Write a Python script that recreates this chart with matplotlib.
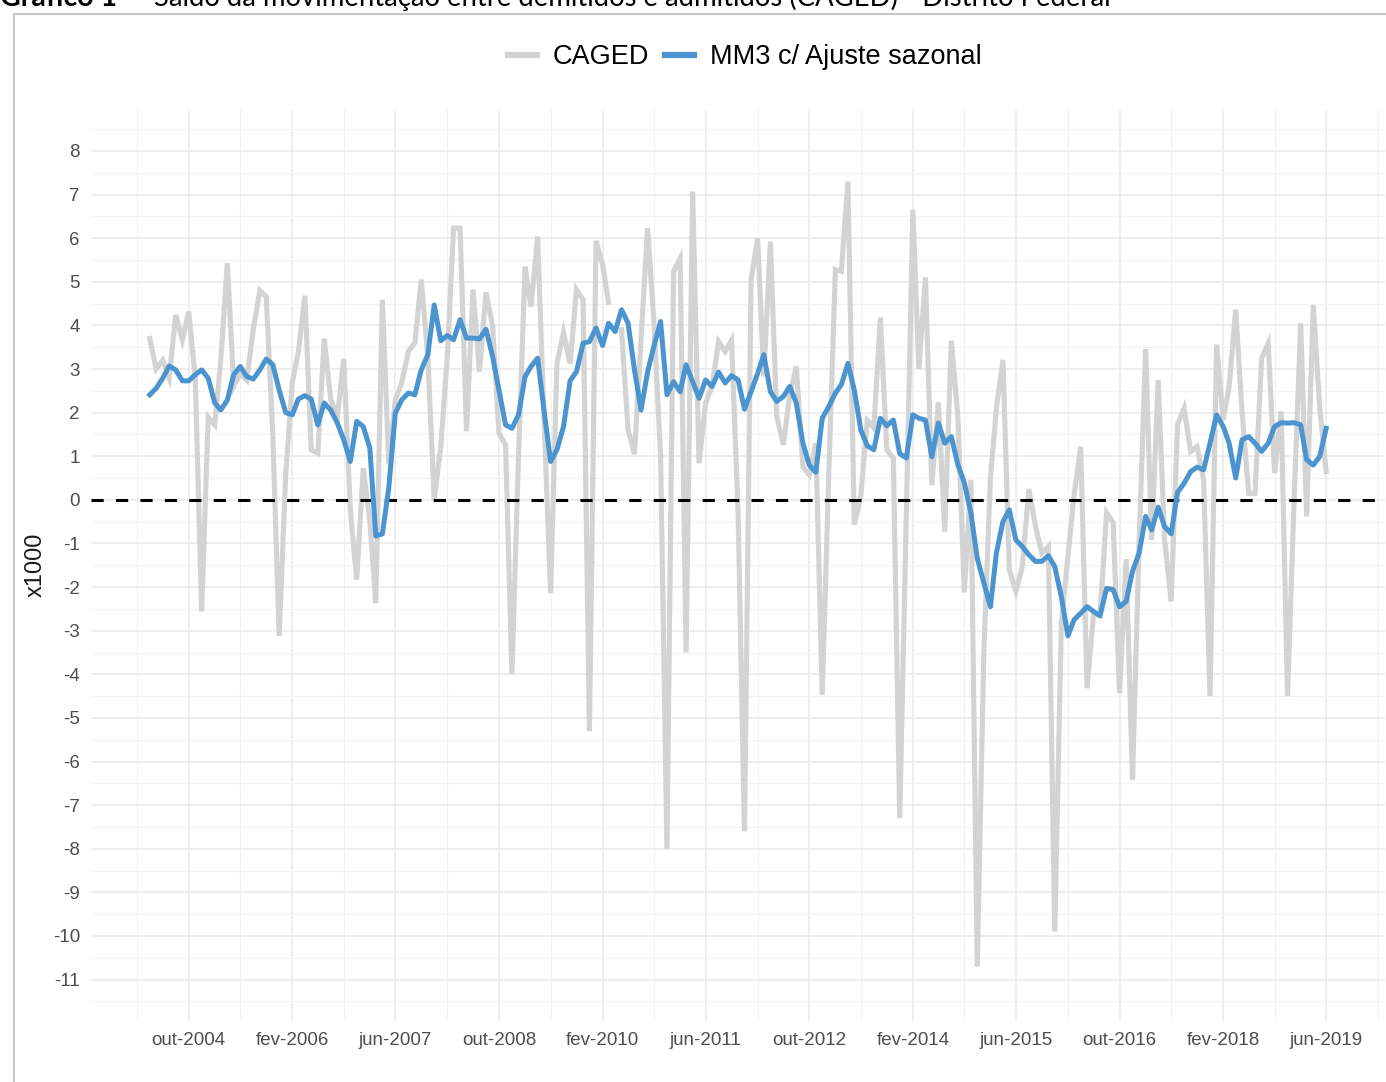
import matplotlib
matplotlib.use("Agg")
import matplotlib.pyplot as plt
import matplotlib.dates as mdates
from matplotlib.lines import Line2D
import numpy as np
import pandas as pd

# saldo mensal (milhares), abr-2004 a jun-2019
caged = [3.7, 3.0, 3.2, 2.8, 4.24, 3.67, 4.32, 2.8, -2.56, 1.9, 1.72, 3.2,
         5.43, 2.6, 2.9, 2.75, 3.9, 4.8, 4.66, 1.5, -3.12, 0.6, 2.7, 3.38,
         4.68, 1.15, 1.07, 3.7, 2.3, 1.9, 3.23, -0.23, -1.83, 0.73, -0.5, -2.37,
         4.59, 0.84, 2.29, 2.68, 3.4, 3.6, 5.05, 3.29, 0.0, 1.22, 3.3, 6.23,
         6.23, 1.57, 4.82, 2.94, 4.76, 3.98, 1.53, 1.26, -4.0, 1.0, 5.35, 4.43,
         6.04, 1.9, -2.14, 3.13, 3.84, 3.12, 4.82, 4.59, -5.3, 5.94, 5.39, 4.53,
         np.nan, 3.9, 1.6, 1.05, 3.7, 6.23, 4.05, 1.0, -8.0, 5.24, 5.54, -3.5,
         7.07, 0.84, 2.22, 2.6, 3.63, 3.4, 3.66, -0.3, -7.6, 5.05, 6.0, 2.83,
         5.92, 1.91, 1.26, 2.4, 3.06, 0.76, 0.57, 1.3, -4.47, 0.6, 5.28, 5.24,
         7.3, -0.57, 0.1, 1.82, 1.65, 4.18, 1.15, 0.95, -7.3, -0.3, 6.65, 3.0,
         5.1, 0.33, 2.24, -0.73, 3.65, 1.9, -2.12, 0.46, -10.7, -3.5, 0.5, 2.1,
         3.21, -1.6, -2.1, -1.53, 0.25, -0.6, -1.22, -1.07, -9.9, -2.83, -1.3, 0.1,
         1.22, -4.32, -2.6, -2.65, -0.3, -0.52, -4.43, -1.36, -6.42, -1.0, 3.46, -0.92,
         2.75, -0.9, -2.33, 1.72, 2.1, 1.11, 1.22, 0.46, -4.5, 3.56, 1.83, 2.6,
         4.36, 2.0, 0.15, 0.15, 3.25, 3.59, 0.61, 2.03, -4.5, 0.0, 4.05, -0.38,
         4.47, 2.14, 0.65]

mm3 = [2.41, 2.56, 2.79, 3.07, 2.98, 2.73, 2.73, 2.87, 2.98, 2.79, 2.22, 2.06,
       2.29, 2.87, 3.06, 2.83, 2.77, 2.98, 3.23, 3.1, 2.52, 2.0, 1.95, 2.31,
       2.39, 2.31, 1.72, 2.22, 2.06, 1.76, 1.38, 0.88, 1.8, 1.68, 1.19, -0.83,
       -0.78, 0.27, 1.99, 2.29, 2.45, 2.41, 2.98, 3.33, 4.47, 3.65, 3.77, 3.67,
       4.13, 3.71, 3.71, 3.69, 3.91, 3.29, 2.52, 1.72, 1.64, 1.95, 2.83, 3.06,
       3.25, 2.06, 0.88, 1.15, 1.68, 2.73, 2.94, 3.59, 3.63, 3.94, 3.54, 4.05,
       3.86, 4.36, 4.05, 2.98, 2.06, 2.94, 3.53, 4.09, 2.41, 2.71, 2.48, 3.1,
       2.71, 2.33, 2.75, 2.6, 2.93, 2.68, 2.85, 2.75, 2.08, 2.48, 2.9, 3.33,
       2.48, 2.26, 2.37, 2.6, 2.22, 1.3, 0.8, 0.63, 1.87, 2.14, 2.45, 2.64,
       3.13, 2.52, 1.6, 1.24, 1.15, 1.87, 1.7, 1.83, 1.06, 0.96, 1.95, 1.87,
       1.83, 0.99, 1.76, 1.3, 1.45, 0.8, 0.4, -0.3, -1.34, -1.9, -2.45, -1.22,
       -0.5, -0.23, -0.92, -1.07, -1.26, -1.41, -1.41, -1.28, -1.53, -2.22, -3.12, -2.75,
       -2.6, -2.45, -2.56, -2.66, -2.03, -2.06, -2.45, -2.33, -1.64, -1.22, -0.38, -0.69,
       -0.17, -0.61, -0.78, 0.17, 0.38, 0.65, 0.75, 0.69, 1.3, 1.95, 1.68, 1.3,
       0.5, 1.38, 1.45, 1.3, 1.11, 1.3, 1.68, 1.77, 1.76, 1.77, 1.72, 0.92,
       0.8, 0.99, 1.64]

datas = pd.date_range("2004-04-01", periods=len(caged), freq="MS")
rotulos_x = ["out-2004", "fev-2006", "jun-2007", "out-2008", "fev-2010", "jun-2011",
             "out-2012", "fev-2014", "jun-2015", "out-2016", "fev-2018", "jun-2019"]
ticks_x = pd.date_range("2004-10-01", periods=len(rotulos_x), freq="16MS")
minor_x = pd.date_range("2004-02-01", periods=2 * len(rotulos_x) + 1, freq="8MS")
ticks_y = list(range(-11, 9))

W, H = 1386, 1082
fig = plt.figure(figsize=(W / 100, H / 100), dpi=100)
plt.rcParams["font.family"] = ["Liberation Sans", "DejaVu Sans"]

ax = fig.add_axes([91 / W, 1 - 1021 / H, (1385 - 91) / W, (1021 - 110) / H])

ax.plot(datas, caged, color="#d3d3d3", lw=3.7, solid_joinstyle="miter", zorder=2,
        label="CAGED")
ax.axhline(0, color="black", lw=2.2, dashes=(4, 4), zorder=3)
ax.plot(datas, mm3, color="#4b94cf", lw=3.6, zorder=4, label="MM3 c/ Ajuste sazonal")

x0 = mdates.date2num(datas[0])
x1 = mdates.date2num(datas[-1])
pad = 0.05 * (x1 - x0)
ax.set_xlim(x0 - pad, x1 + pad)
ax.set_ylim(-11.95, 8.94)

ax.set_xticks(ticks_x)
ax.set_xticklabels(rotulos_x)
ax.set_xticks(minor_x, minor=True)
ax.set_yticks(ticks_y)
ax.set_yticklabels([str(v) for v in ticks_y])
ax.set_yticks(np.arange(-11.5, 9, 1.0), minor=True)

ax.grid(which="major", color="#ebebeb", lw=1.2, zorder=0)
ax.grid(which="minor", color="#f2f2f2", lw=0.8, zorder=0)
ax.set_axisbelow(True)
for s in ax.spines.values():
    s.set_visible(False)
ax.tick_params(which="both", length=0, labelsize=13.5, labelcolor="#4d4d4d", pad=8)

fig.text(36 / W, 1 - 565 / H, "x1000", rotation=90, ha="center", va="center",
         fontsize=17, color="#1a1a1a")

handles = [Line2D([], [], color="#d3d3d3", lw=4.5), Line2D([], [], color="#4b94cf", lw=4.5)]
fig.legend(handles, ["CAGED", "MM3 c/ Ajuste sazonal"], loc="center",
           bbox_to_anchor=(745 / W, 1 - 57 / H), ncol=2, frameon=False, fontsize=19.5,
           handlelength=1.05, handletextpad=0.6, columnspacing=0.6)

# titulo cortado no topo e moldura
fig.text(0, 1 - 6 / H, "Gráfico 1", fontsize=20.5, fontweight="bold", family="Lato",
         va="baseline")
fig.text(131 / W, 1 - 6 / H,
         "– Saldo da movimentação entre demitidos e admitidos (CAGED) - Distrito Federal",
         fontsize=19.8, family="Lato", va="baseline")
fig.add_artist(Line2D([14 / W, 14 / W], [0, 1 - 14 / H], color="#c8c8c8", lw=1.5))
fig.add_artist(Line2D([14 / W, 1], [1 - 14 / H, 1 - 14 / H], color="#c8c8c8", lw=1.5))

fig.savefig("out.png", dpi=100)
